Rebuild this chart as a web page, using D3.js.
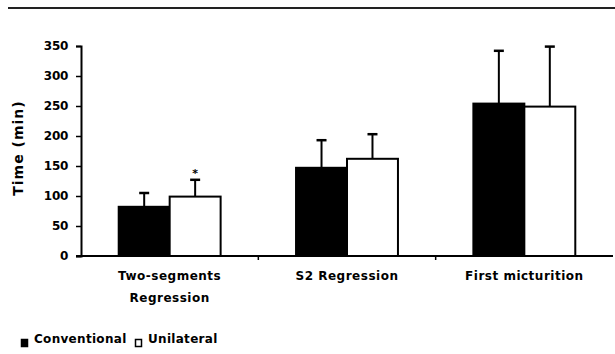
<!DOCTYPE html>
<html>
<head>
<meta charset="utf-8">
<script src="https://cdn.jsdelivr.net/npm/d3@7"></script>
<style>
  body { margin: 0; background: #fff; }
  svg text { font-family: "DejaVu Sans", "Liberation Sans", Arial, sans-serif; font-weight: bold; fill: #000; }
</style>
</head>
<body>
<div id="chart"></div>
<script>
// categories and series (time in min, mean and SD)
var categories = ['Two-segments Regression', 'S2 Regression', 'First micturition'];
var categoryLines = [['Two-segments', 'Regression'], ['S2 Regression'], ['First micturition']];
var series = ['Conventional', 'Unilateral'];
var conventional = [82, 147, 254];
var conventionalSD = [23, 46, 88];
var unilateral = [99, 162, 249];
var unilateralSD = [28, 41, 100];
var yTicks = [0, 50, 100, 150, 200, 250, 300, 350];
var significant = [true, false, false]; // asterisk over unilateral bar

var fills = { Conventional: '#000', Unilateral: '#fff' };

var W = 615, H = 354;
var svg = d3.select('#chart').append('svg')
  .attr('width', W).attr('height', H);

// top rule
svg.append('line')
  .attr('x1', 8).attr('x2', W).attr('y1', 8).attr('y2', 8)
  .attr('stroke', '#222').attr('stroke-width', 2);

var x0 = d3.scaleBand().domain(categories).range([81, 613]).padding(0);
var x1 = d3.scaleBand().domain(series).range([0, x0.bandwidth()]).paddingInner(0).paddingOuter(0.74);
var y = d3.scaleLinear().domain([0, 350]).range([256, 46]);

var rows = categories.map(function(c, i) {
  return [
    { cat: c, s: 'Conventional', v: conventional[i], sd: conventionalSD[i], star: false },
    { cat: c, s: 'Unilateral', v: unilateral[i], sd: unilateralSD[i], star: significant[i] }
  ];
});
var flat = [].concat.apply([], rows);

// error bars (upper only)
var eb = svg.append('g');
flat.forEach(function(d) {
  var cx = x0(d.cat) + x1(d.s) + x1.bandwidth() / 2;
  eb.append('line')
    .attr('x1', cx).attr('x2', cx)
    .attr('y1', y(d.v)).attr('y2', y(d.v + d.sd))
    .attr('stroke', '#000').attr('stroke-width', 2);
  eb.append('line')
    .attr('x1', cx - 5).attr('x2', cx + 5)
    .attr('y1', y(d.v + d.sd)).attr('y2', y(d.v + d.sd))
    .attr('stroke', '#000').attr('stroke-width', 2.5);
  if (d.star) {
    eb.append('text')
      .attr('x', cx).attr('y', y(d.v + d.sd) - 3)
      .attr('text-anchor', 'middle')
      .style('font-size', '11px')
      .text('*');
  }
});

// bars
svg.append('g').selectAll('rect').data(flat).enter().append('rect')
  .attr('x', function(d) { return x0(d.cat) + x1(d.s); })
  .attr('y', function(d) { return y(d.v); })
  .attr('width', x1.bandwidth())
  .attr('height', function(d) { return y(0) - y(d.v); })
  .attr('fill', function(d) { return fills[d.s]; })
  .attr('stroke', '#000').attr('stroke-width', 2);

// y axis
var yAxis = svg.append('g')
  .attr('transform', 'translate(81,0)')
  .call(d3.axisLeft(y).tickValues(yTicks).tickSize(5).tickPadding(8));
yAxis.select('.domain').attr('stroke-width', 2);
yAxis.selectAll('.tick line').attr('stroke-width', 1.5);
yAxis.selectAll('.tick text').style('font-size', '12px').style('letter-spacing', '-0.3px');

// x axis
var xAxis = svg.append('g').attr('transform', 'translate(0,256)');
xAxis.append('line')
  .attr('x1', 76).attr('x2', 613).attr('y1', 0).attr('y2', 0)
  .attr('stroke', '#000').attr('stroke-width', 2);
xAxis.selectAll('.xt').data(categories.slice(1)).enter().append('line')
  .attr('x1', function(c) { return x0(c); }).attr('x2', function(c) { return x0(c); })
  .attr('y1', 0).attr('y2', 4)
  .attr('stroke', '#000').attr('stroke-width', 1.5);
categories.forEach(function(c, i) {
  var t = xAxis.append('text')
    .attr('x', x0(c) + x0.bandwidth() / 2)
    .attr('y', 24)
    .attr('text-anchor', 'middle')
    .style('font-size', '12px')
    .style('letter-spacing', '0.5px');
  categoryLines[i].forEach(function(line, j) {
    t.append('tspan')
      .attr('x', x0(c) + x0.bandwidth() / 2)
      .attr('dy', j === 0 ? 0 : 22)
      .text(line);
  });
});

// y title
svg.append('text')
  .attr('transform', 'translate(23,148) rotate(-90)')
  .attr('text-anchor', 'middle')
  .style('font-size', '14px')
  .style('letter-spacing', '1px')
  .text('Time (min)');

// legend
var legendX = [21, 135];
series.forEach(function(s, i) {
  var g = svg.append('g').attr('transform', 'translate(' + legendX[i] + ',339)');
  g.append('rect')
    .attr('x', 0.5).attr('y', 0.5).attr('width', 6).attr('height', 7)
    .attr('fill', fills[s]).attr('stroke', '#000').attr('stroke-width', 1.5);
  g.append('text')
    .attr('x', 13).attr('y', 4)
    .style('font-size', '12px')
    .style('letter-spacing', '0.3px')
    .text(s);
});
</script>
</body>
</html>
